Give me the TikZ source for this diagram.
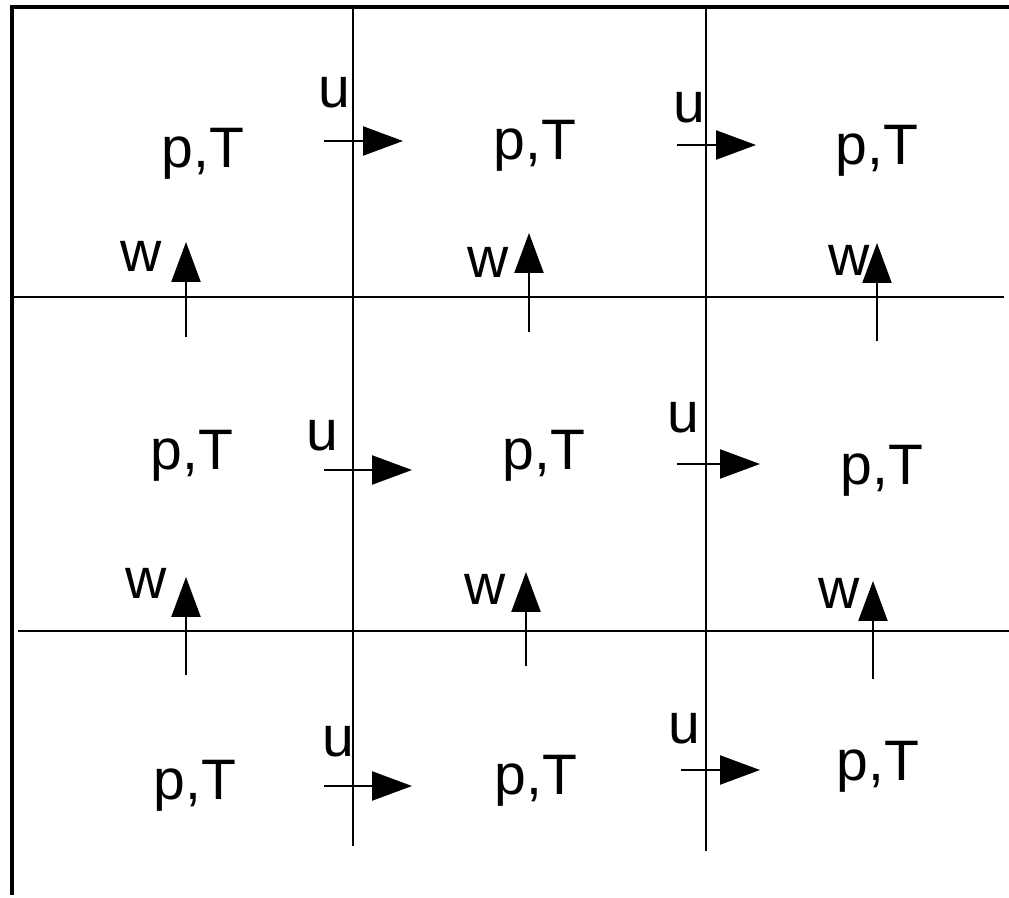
\documentclass[tikz,border=0pt]{standalone}
\usepackage{fontspec}
\setmainfont{Liberation Sans}
\usetikzlibrary{arrows.meta}

\begin{document}
\begin{tikzpicture}[x=0.02cm, y=-0.02cm, >={Triangle[length=0.8cm, width=0.58cm]},
    wall/.style={draw, line width=2.5pt},
    grid/.style={draw, line width=1.3pt},
    var/.style={inner sep=0pt, anchor=base, font=\fontsize{32.5}{38}\selectfont},
    flux/.style={draw, ->, line width=1.3pt}]

    \useasboundingbox (0,0) rectangle (1009,898);

    % boundary and cell faces
    \path [wall] (10,7) -- (1009,7);
    \path [wall] (12,7) -- (12,895);
    \path [grid] (353,7) -- (353,846);
    \path [grid] (706,7) -- (706,851);
    \path [grid] (12,297) -- (1004,297);
    \path [grid] (18,631) -- (1009,631);

    % cell centres
    \node [var] (c11) at (203,168) {p,T};
    \node [var] (c12) at (535,160) {p,T};
    \node [var] (c13) at (877,165) {p,T};
    \node [var] (c21) at (192,470) {p,T};
    \node [var] (c22) at (544,470) {p,T};
    \node [var] (c23) at (882,485) {p,T};
    \node [var] (c31) at (195,800) {p,T};
    \node [var] (c32) at (536,795) {p,T};
    \node [var] (c33) at (878,781) {p,T};

    % horizontal velocity
    \node [var] (ul11) at (334,108) {u};
    \node [var] (ul12) at (689,123) {u};
    \node [var] (ul21) at (322,451) {u};
    \node [var] (ul22) at (683,433) {u};
    \node [var] (ul31) at (338,757) {u};
    \node [var] (ul32) at (684,744) {u};
    \coordinate (ua11) at (324,141);  \coordinate (ub11) at (403,141);
    \coordinate (ua12) at (677,145);  \coordinate (ub12) at (756,145);
    \coordinate (ua21) at (324,470);  \coordinate (ub21) at (412,470);
    \coordinate (ua22) at (677,464);  \coordinate (ub22) at (760,464);
    \coordinate (ua31) at (324,786);  \coordinate (ub31) at (412,786);
    \coordinate (ua32) at (681,770);  \coordinate (ub32) at (760,770);
    \path [flux] (ua11) -- (ub11);
    \path [flux] (ua12) -- (ub12);
    \path [flux] (ua21) -- (ub21);
    \path [flux] (ua22) -- (ub22);
    \path [flux] (ua31) -- (ub31);
    \path [flux] (ua32) -- (ub32);

    % vertical velocity
    \node [var] (wl11) at (141,272) {w};
    \node [var] (wl12) at (488,278) {w};
    \node [var] (wl13) at (849,276) {w};
    \node [var] (wl21) at (146,599) {w};
    \node [var] (wl22) at (485,605) {w};
    \node [var] (wl23) at (839,609) {w};
    \coordinate (wa11) at (186,337);  \coordinate (wb11) at (186,242);
    \coordinate (wa12) at (529,332);  \coordinate (wb12) at (529,233);
    \coordinate (wa13) at (877,341);  \coordinate (wb13) at (877,243);
    \coordinate (wa21) at (186,675);  \coordinate (wb21) at (186,577);
    \coordinate (wa22) at (526,666);  \coordinate (wb22) at (526,572);
    \coordinate (wa23) at (873,679);  \coordinate (wb23) at (873,581);
    \path [flux] (wa11) -- (wb11);
    \path [flux] (wa12) -- (wb12);
    \path [flux] (wa13) -- (wb13);
    \path [flux] (wa21) -- (wb21);
    \path [flux] (wa22) -- (wb22);
    \path [flux] (wa23) -- (wb23);
\end{tikzpicture}
\end{document}
